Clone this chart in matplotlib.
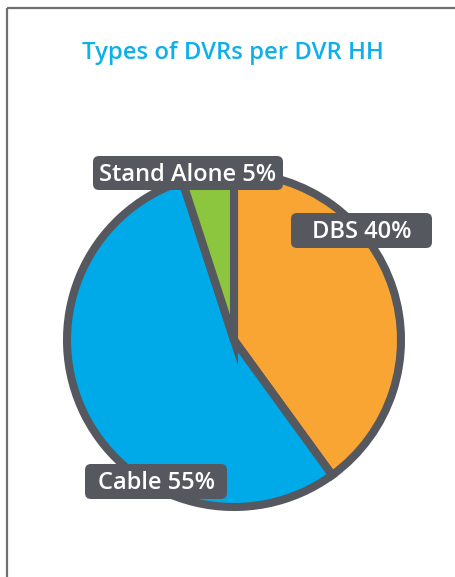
import matplotlib
matplotlib.use("Agg")
import matplotlib.pyplot as plt
from matplotlib.patches import FancyBboxPatch

# Données du graphique
categories = ["DBS", "Cable", "Stand Alone"]
values = [40, 55, 5]
colors = ["#F8A533", "#00AAE9", "#8CC63F"]
title = "Types of DVRs per DVR HH"

W, H = 455, 577
fig = plt.figure(figsize=(W / 100, H / 100), dpi=100)
ax = fig.add_axes([0, 0, 1, 1])

edge = "#55585F"
cx, cy = 234, H - 340
ax.pie(values, colors=colors, startangle=90, counterclock=False,
       center=(cx, cy), radius=167, frame=True,
       wedgeprops=dict(edgecolor=edge, linewidth=5.8, joinstyle="miter"))
ax.set_xlim(0, W)
ax.set_ylim(0, H)
ax.set_aspect("equal")
ax.axis("off")

# Cadre gris (haut et gauche)
ax.plot([6.5, W], [H - 8, H - 8], color="#6E6F73", lw=1.6, solid_capstyle="butt")
ax.plot([6.5, 6.5], [0, H - 8], color="#6E6F73", lw=1.6, solid_capstyle="butt")

ax.text(233, H - 59, title, ha="center", va="baseline", fontsize=17.2,
        fontweight="semibold", family="Open Sans", color="#0FAFEC")

# Étiquettes dans des boîtes arrondies (x0, x1, y_haut, y_bas, ligne de base) en pixels
label_box = {"DBS": (291, 432, 213, 248, 238),
             "Cable": (85, 227, 464, 499, 489),
             "Stand Alone": (93, 283, 156, 190, 181)}
for cat, val in zip(categories, values):
    x0, x1, yt, yb, base = label_box[cat]
    ax.add_patch(FancyBboxPatch((x0, H - yb), x1 - x0, yb - yt,
                                boxstyle="round,pad=0,rounding_size=6",
                                fc=edge, ec="none", zorder=5))
    ax.text((x0 + x1) / 2, H - base, f"{cat} {val}%", ha="center", va="baseline",
            fontsize=17, fontweight="semibold", family="Open Sans", color="white",
            zorder=6)

fig.savefig("out.png", dpi=100)
